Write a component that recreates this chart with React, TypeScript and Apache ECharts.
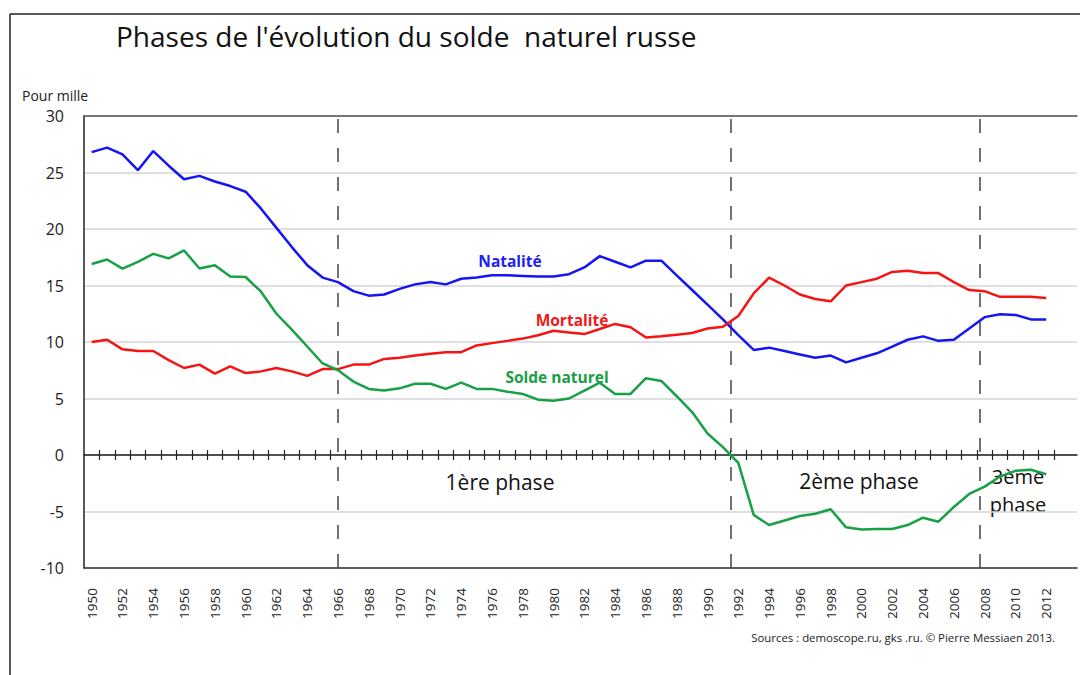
import React, { useEffect, useRef } from "react";
import * as echarts from "echarts";

const years = [
  1950, 1951, 1952, 1953, 1954, 1955, 1956, 1957, 1958, 1959,
  1960, 1961, 1962, 1963, 1964, 1965, 1966, 1967, 1968, 1969,
  1970, 1971, 1972, 1973, 1974, 1975, 1976, 1977, 1978, 1979,
  1980, 1981, 1982, 1983, 1984, 1985, 1986, 1987, 1988, 1989,
  1990, 1991, 1992, 1993, 1994, 1995, 1996, 1997, 1998, 1999,
  2000, 2001, 2002, 2003, 2004, 2005, 2006, 2007, 2008, 2009,
  2010, 2011, 2012,
];

const natalite = [
  26.8, 27.2, 26.6, 25.2, 26.9, 25.6, 24.4, 24.7, 24.2, 23.8,
  23.3, 21.8, 20.1, 18.4, 16.8, 15.7, 15.3, 14.5, 14.1, 14.2,
  14.7, 15.1, 15.3, 15.1, 15.6, 15.7, 15.9, 15.9, 15.85, 15.8,
  15.8, 16.0, 16.6, 17.6, 17.1, 16.6, 17.2, 17.2, 15.9, 14.6,
  13.3, 12.0, 10.6, 9.3, 9.5, 9.2, 8.9, 8.6, 8.8, 8.2,
  8.6, 9.0, 9.6, 10.2, 10.5, 10.1, 10.2, 11.2, 12.2, 12.45,
  12.4, 12.0, 12.0,
];

const mortalite = [
  10.0, 10.2, 9.35, 9.2, 9.2, 8.4, 7.7, 8.0, 7.2, 7.85,
  7.25, 7.4, 7.7, 7.4, 7.0, 7.6, 7.6, 8.0, 8.0, 8.5,
  8.6, 8.8, 8.95, 9.1, 9.1, 9.7, 9.9, 10.1, 10.3, 10.6,
  11.0, 10.85, 10.7, 11.15, 11.6, 11.3, 10.4, 10.5, 10.65, 10.8,
  11.2, 11.35, 12.3, 14.3, 15.7, 15.0, 14.2, 13.8, 13.6, 15.0,
  15.3, 15.6, 16.2, 16.3, 16.1, 16.1, 15.3, 14.6, 14.5, 14.0,
  14.0, 14.0, 13.9,
];

const soldeNaturel = [
  16.9, 17.3, 16.5, 17.1, 17.8, 17.4, 18.1, 16.5, 16.8, 15.8,
  15.75, 14.45, 12.5, 11.1, 9.6, 8.1, 7.5, 6.5, 5.85, 5.7,
  5.9, 6.3, 6.3, 5.85, 6.4, 5.85, 5.85, 5.6, 5.4, 4.9,
  4.8, 5.0, 5.7, 6.4, 5.4, 5.4, 6.8, 6.55, 5.2, 3.8,
  1.9, 0.7, -0.7, -5.3, -6.2, -5.8, -5.4, -5.2, -4.8, -6.4,
  -6.6, -6.55, -6.55, -6.2, -5.55, -5.9, -4.6, -3.45, -2.8, -1.9,
  -1.4, -1.3, -1.7,
];

const yearLabels = [
  1950, 1952, 1954, 1956, 1958, 1960, 1962, 1964, 1966, 1968,
  1970, 1972, 1974, 1976, 1978, 1980, 1982, 1984, 1986, 1988,
  1990, 1992, 1994, 1996, 1998, 2000, 2002, 2004, 2006, 2008,
  2010, 2012,
];

const phaseBreaks = [1966, 1991.5, 2007.7];

const FONT = "'Open Sans', sans-serif";

export default function App() {
  const ref = useRef<HTMLDivElement>(null);

  useEffect(() => {
    document.body.style.margin = "0";
    const chart = echarts.init(ref.current as HTMLDivElement, null, { renderer: "svg" });
    const pair = (arr: number[]) => years.map((y, i) => [y, arr[i]]);
    const tickVals = years.map((y) => y + 0.5);
    const common = {
      type: "value",
      min: 1949.5,
      max: 2014,
      gridIndex: 0,
      splitLine: { show: false },
    };

    chart.setOption({
      animation: false,
      backgroundColor: "#ffffff",
      grid: { left: 84, top: 116, right: 3, bottom: 107, containLabel: false },
      xAxis: [
        {
          ...common,
          position: "bottom",
          axisLine: { show: true, onZero: true, lineStyle: { color: "#222", width: 1.5 } },
          axisTick: { show: true, customValues: tickVals, length: 5, lineStyle: { color: "#222", width: 1.2 } },
          axisLabel: { show: false },
        },
        {
          ...common,
          position: "bottom",
          axisLine: { show: false, onZero: true, onZeroAxisIndex: 0 },
          axisTick: { show: true, inside: true, customValues: tickVals, length: 5, lineStyle: { color: "#222", width: 1.2 } },
          axisLabel: { show: false },
        },
        {
          ...common,
          position: "bottom",
          axisLine: { show: true, onZero: false, lineStyle: { color: "#333", width: 1.5 } },
          axisTick: { show: false },
          axisLabel: {
            show: true,
            rotate: 90,
            customValues: yearLabels,
            margin: 20,
            fontSize: 13.5,
            color: "#222",
            fontFamily: FONT,
            formatter: (v: number) => String(v),
          },
        },
        {
          ...common,
          position: "top",
          axisLine: { show: true, onZero: false, lineStyle: { color: "#555", width: 1.5 } },
          axisTick: { show: false },
          axisLabel: { show: false },
        },
      ],
      yAxis: {
        type: "value",
        min: -10,
        max: 30,
        interval: 5,
        axisLine: { show: true, onZero: false, lineStyle: { color: "#222", width: 1.5 } },
        axisTick: { show: false },
        axisLabel: { fontSize: 16, color: "#222", margin: 20, fontFamily: FONT },
        splitLine: { show: true, lineStyle: { color: "#d4d4d4", width: 1.5 } },
      },
      series: [
        {
          name: "Natalité",
          type: "line",
          xAxisIndex: 0,
          data: pair(natalite),
          showSymbol: false,
          lineStyle: { color: "#1414f5", width: 2.5 },
          itemStyle: { color: "#1414f5" },
          z: 3,
          markLine: {
            silent: true,
            symbol: ["none", "none"],
            label: { show: false },
            lineStyle: { type: [14, 15], color: "#444", width: 1.5 },
            data: phaseBreaks.map((v) => ({ xAxis: v })),
            z: 1,
          },
        },
        {
          name: "Mortalité",
          type: "line",
          xAxisIndex: 0,
          data: pair(mortalite),
          showSymbol: false,
          lineStyle: { color: "#f51414", width: 2.5 },
          itemStyle: { color: "#f51414" },
          z: 3,
        },
        {
          name: "Solde naturel",
          type: "line",
          xAxisIndex: 0,
          data: pair(soldeNaturel),
          showSymbol: false,
          lineStyle: { color: "#17a045", width: 2.5 },
          itemStyle: { color: "#17a045" },
          z: 3,
        },
      ],
      graphic: [
        { type: "line", shape: { x1: 10, y1: 14, x2: 1080, y2: 14 }, style: { stroke: "#222", lineWidth: 1.5 } },
        { type: "line", shape: { x1: 10, y1: 14, x2: 10, y2: 675 }, style: { stroke: "#222", lineWidth: 1.5 } },
        {
          type: "text", left: 116, top: 22,
          style: { text: "Phases de l'évolution du solde  naturel russe", font: `28px ${FONT}`, fill: "#111" },
        },
        {
          type: "text", left: 22, top: 88,
          style: { text: "Pour mille", font: `14px ${FONT}`, fill: "#222" },
        },
        {
          type: "text", x: 510, y: 261,
          style: { text: "Natalité", font: `bold 15.5px ${FONT}`, fill: "#2020f0", align: "center", verticalAlign: "middle" },
        },
        {
          type: "text", x: 572, y: 320,
          style: { text: "Mortalité", font: `bold 15.5px ${FONT}`, fill: "#f01818", align: "center", verticalAlign: "middle" },
        },
        {
          type: "text", x: 557, y: 377,
          style: { text: "Solde naturel", font: `bold 15.5px ${FONT}`, fill: "#1a9e45", align: "center", verticalAlign: "middle" },
        },
        {
          type: "text", x: 500, y: 482,
          style: { text: "1ère phase", font: `21px ${FONT}`, fill: "#111", align: "center", verticalAlign: "middle" },
        },
        {
          type: "text", x: 859, y: 481,
          style: { text: "2ème phase", font: `21px ${FONT}`, fill: "#111", align: "center", verticalAlign: "middle" },
        },
        {
          type: "text", x: 1018, y: 490,
          style: { text: "3ème\nphase", font: `20px ${FONT}`, lineHeight: 28, fill: "#111", align: "center", verticalAlign: "middle" },
        },
        {
          type: "text", x: 1055, y: 637,
          style: { text: "Sources : demoscope.ru, gks .ru. © Pierre Messiaen 2013.", font: `11.4px ${FONT}`, fill: "#222", align: "right", verticalAlign: "middle" },
        },
      ],
    });

    return () => chart.dispose();
  }, []);

  return (
    <div
      ref={ref}
      style={{ position: "fixed", left: 0, top: 0, width: 1080, height: 675, background: "#fff" }}
    />
  );
}
